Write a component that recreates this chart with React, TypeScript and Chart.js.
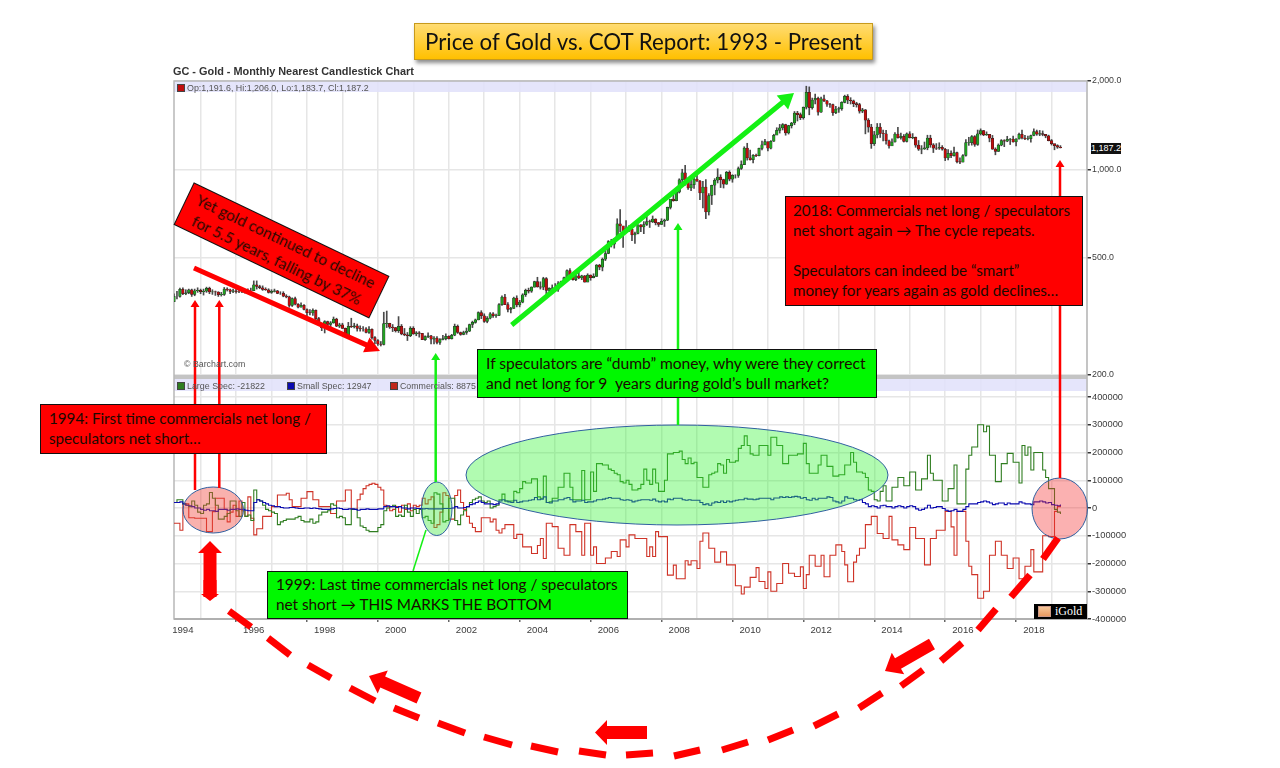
import React, { useEffect, useRef } from "react";
import { Chart, registerables } from "chart.js";

Chart.register(...registerables);

const opens = [
  355,370,370,
  391,378,381,390,376,387,388,384,386,394,383,384,
  383,375,376,392,390,385,387,384,383,384,382,387,
  387,405,400,396,391,390,382,385,387,379,379,371,
  369,345,364,348,340,345,334,326,325,332,311,296,
  290,304,297,301,310,293,296,288,273,293,292,294,
  288,287,287,279,286,268,262,255,254,299,300,291,
  290,283,293,276,274,272,288,276,278,277,264,270,
  272,265,267,258,264,266,271,266,273,293,279,275,
  279,282,297,302,308,326,318,304,312,323,318,319,
  347,368,347,334,337,365,346,354,375,388,386,398,
  416,399,398,426,388,394,396,391,409,416,429,453,
  438,422,435,428,435,414,437,429,433,473,465,495,
  518,569,557,582,654,643,616,632,626,599,606,648,
  638,650,665,663,678,660,650,667,673,743,794,783,
  838,923,975,921,865,888,928,913,833,871,718,816,
  884,919,942,924,891,979,927,955,955,1008,1039,1182,
  1096,1081,1118,1115,1180,1213,1244,1181,1248,1308,1359,1386,
  1421,1333,1410,1439,1556,1536,1502,1628,1829,1624,1724,1746,
  1566,1740,1711,1669,1664,1560,1604,1610,1692,1773,1720,1713,
  1675,1663,1578,1595,1472,1393,1224,1312,1395,1327,1323,1253,
  1202,1240,1321,1284,1296,1246,1322,1282,1287,1210,1172,1175,
  1184,1279,1213,1183,1182,1190,1172,1095,1135,1115,1141,1064,
  1060,1116,1234,1235,1293,1217,1322,1357,1311,1316,1277,1173,
  1152,1210,1254,1249,1266,1269,1241,1270,1317,1280,1271,1274,
  1305,1345,1318,1325,1316,1301,1254,1224,1206,1191.6,
];
const closes = [
  370,370,391,
  378,381,390,376,387,388,384,386,394,383,384,383,
  375,376,392,390,385,387,384,383,384,382,387,387,
  405,400,396,391,390,382,385,387,379,379,371,369,
  345,364,348,340,345,334,326,325,332,311,296,290,
  304,297,301,310,293,296,288,273,293,292,294,288,
  287,287,279,286,268,262,255,254,299,300,291,290,
  283,293,276,274,272,288,276,278,277,264,270,272,
  265,267,258,264,266,271,266,273,293,279,275,279,
  282,297,302,308,326,318,304,312,323,318,319,347,
  368,347,334,337,365,346,354,375,388,386,398,416,
  399,398,426,388,394,396,391,409,416,429,453,438,
  422,435,428,435,414,437,429,433,473,465,495,518,
  569,557,582,654,643,616,632,626,599,606,648,638,
  650,665,663,678,660,650,667,673,743,794,783,838,
  923,975,921,865,888,928,913,833,871,718,816,884,
  919,942,924,891,979,927,955,955,1008,1039,1182,1096,
  1081,1118,1115,1180,1213,1244,1181,1248,1308,1359,1386,1421,
  1333,1410,1439,1556,1536,1502,1628,1829,1624,1724,1746,1566,
  1740,1711,1669,1664,1560,1604,1610,1692,1773,1720,1713,1675,
  1663,1578,1595,1472,1393,1224,1312,1395,1327,1323,1253,1202,
  1240,1321,1284,1296,1246,1322,1282,1287,1210,1172,1175,1184,
  1279,1213,1183,1182,1190,1172,1095,1135,1115,1141,1064,1060,
  1116,1234,1235,1293,1217,1322,1357,1311,1316,1277,1173,1152,
  1210,1254,1249,1266,1269,1241,1270,1317,1280,1271,1274,1305,
  1345,1318,1325,1316,1301,1254,1224,1206,1192,1187.2,
];
const highs = [
  378,385,395,
  396,390,392,392,392,396,392,392,398,398,390,386,
  384,382,397,396,392,392,392,388,390,389,393,395,
  418,418,404,402,396,393,390,392,388,384,384,375,
  371,366,368,350,352,347,336,334,336,333,314,298,
  306,305,304,315,312,300,300,289,302,312,300,298,
  294,292,290,292,287,270,264,260,327,330,300,297,
  290,316,297,288,279,292,292,281,281,276,272,278,
  273,270,270,266,273,276,272,275,298,296,280,282,
  289,298,305,310,328,331,323,316,326,326,322,350,
  372,376,353,340,368,372,359,378,392,395,399,417,
  430,415,430,429,396,405,409,416,417,431,456,460,
  440,438,447,437,436,442,438,442,475,476,500,540,
  573,579,583,680,730,640,670,645,636,612,650,650,
  665,693,673,695,680,660,680,678,745,790,845,840,
  930,1002,1034,933,935,943,988,918,912,925,828,885,
  931,1006,960,927,985,990,960,960,1020,1070,1195,1228,
  1165,1125,1128,1183,1250,1266,1215,1255,1318,1387,1424,1433,
  1426,1414,1447,1575,1577,1557,1632,1920,1910,1750,1804,1764,
  1765,1792,1720,1680,1668,1640,1630,1700,1790,1798,1755,1723,
  1693,1680,1615,1600,1490,1425,1348,1434,1434,1362,1360,1260,
  1272,1335,1392,1330,1315,1332,1345,1325,1290,1255,1206,1240,
  1308,1308,1225,1225,1233,1206,1180,1170,1158,1192,1146,1095,
  1125,1263,1287,1305,1304,1362,1375,1358,1343,1317,1306,1185,
  1222,1264,1263,1297,1275,1298,1274,1330,1362,1306,1300,1310,
  1375,1362,1358,1353,1315,1309,1265,1218,1214,1206,
];
const lows = [
  355,363,368,
  375,375,378,370,372,382,378,374,382,378,376,373,
  370,371,373,386,378,381,380,381,381,380,380,385,
  387,392,393,388,388,380,379,383,378,376,369,366,
  340,342,346,338,340,333,318,320,319,307,295,283,
  278,294,292,300,292,290,288,271,273,290,289,282,
  282,282,278,277,265,255,252,251,253,290,288,281,
  280,279,274,272,262,270,275,272,269,264,262,268,
  255,255,255,254,263,263,265,265,272,277,273,274,
  275,281,290,300,308,311,302,301,310,314,314,318,
  345,347,328,325,337,341,341,352,370,380,382,398,
  398,392,390,372,375,386,385,385,405,410,424,435,
  420,419,425,422,414,415,420,428,433,456,452,490,
  517,545,540,580,613,543,610,615,573,560,604,615,
  605,645,635,660,648,640,650,640,670,734,780,782,
  832,885,885,855,848,863,910,790,740,680,700,760,
  820,900,868,865,890,915,905,935,940,1000,1040,1076,
  1075,1052,1105,1113,1165,1212,1157,1175,1245,1315,1330,1363,
  1308,1320,1384,1420,1462,1478,1483,1606,1535,1604,1671,1530,
  1564,1700,1640,1625,1526,1548,1564,1590,1685,1675,1670,1636,
  1630,1555,1560,1322,1340,1180,1207,1280,1285,1250,1220,1182,
  1221,1238,1278,1268,1240,1240,1280,1272,1190,1161,1131,1170,
  1167,1190,1142,1169,1170,1163,1072,1077,1098,1110,1052,1046,
  1061,1110,1208,1210,1199,1208,1310,1303,1306,1242,1171,1122,
  1152,1204,1196,1243,1216,1238,1204,1268,1271,1262,1261,1238,
  1302,1307,1303,1302,1282,1251,1211,1167,1180,1183.7,
];
// COT positions, in thousands of contracts
const largeSpec = [
  20,30,30,
  15,10,5,25,10,-15,-20,10,15,56,35,10,
  -40,-40,-30,-20,25,25,-10,-30,20,-30,-25,-45,
  65,30,25,10,-5,-10,-15,-20,-60,-50,-45,-40,
  -40,-40,-35,-30,-45,-50,-50,-40,-55,-50,-25,-15,
  -15,-10,15,10,-35,-30,-35,-60,-60,-5,-5,-35,
  -65,-70,-80,-85,-85,-85,-70,-60,-10,0,5,10,
  -30,-25,-30,10,-15,-30,-5,-20,-5,-35,-30,-45,
  -55,55,50,15,-50,-45,35,35,-45,-60,-25,-10,
  5,20,30,35,40,25,20,25,0,5,10,30,
  50,25,25,25,60,55,70,95,90,90,105,105,
  40,35,115,20,22,35,35,75,75,125,125,75,
  30,30,30,135,30,30,130,60,160,160,155,155,
  140,135,125,120,95,90,100,85,65,65,70,85,
  140,100,85,140,90,60,60,100,195,195,200,200,
  205,175,160,180,160,165,110,110,75,75,120,125,
  130,160,155,125,175,165,165,170,215,225,260,225,
  195,190,190,225,225,225,190,255,255,225,225,160,
  160,190,190,190,195,195,233,160,125,125,125,155,
  190,190,150,150,115,115,120,120,155,155,200,165,
  130,130,125,110,65,60,30,25,60,80,25,25,
  75,75,110,110,80,80,130,130,65,65,105,105,
  190,125,100,100,100,25,25,70,70,155,15,15,
  15,140,190,220,220,300,300,275,295,190,190,95,
  95,160,160,197,197,165,165,90,225,190,220,137,
  200,200,200,137,110,70,70,-5,-15,-21.8,
];
const smallSpec = [
  20,20,22,
  15,10,8,5,0,0,-5,-8,-5,-10,-10,-12,
  -5,-5,-5,-8,-5,-5,-3,-5,-5,-8,-10,-10,
  20,30,25,20,15,10,8,5,5,2,0,0,
  2,2,0,-2,-2,0,0,-2,0,-2,-3,-5,
  -5,-5,-3,-2,0,-2,-5,-5,-3,-3,-5,-8,
  -5,-5,-3,-5,-5,-5,-3,-3,5,8,5,5,
  2,5,0,0,-3,0,0,-2,-2,-3,-2,-3,
  -3,-3,-3,-3,-2,-2,-2,0,5,0,0,2,
  5,12,15,20,25,20,15,15,15,12,15,25,
  30,25,22,20,28,20,22,25,25,28,30,38,
  30,32,40,20,18,25,25,30,30,35,38,30,
  22,25,25,28,20,22,22,25,30,30,32,35,
  38,35,35,35,30,28,30,28,22,25,28,30,
  30,30,28,32,25,22,25,22,32,30,35,35,
  35,30,28,30,28,28,28,20,12,15,10,18,
  22,20,25,20,25,22,25,28,30,30,35,32,
  32,30,32,35,35,35,35,30,36,36,40,38,
  40,38,40,42,40,35,38,30,28,35,30,35,
  35,35,40,38,25,22,18,25,40,35,35,30,
  28,30,20,15,5,8,5,0,8,10,5,5,
  0,5,8,5,0,5,8,5,-3,-8,-5,0,
  10,0,2,5,5,-2,-8,-12,-10,-5,-12,-12,
  -5,5,15,15,15,20,22,25,22,18,12,15,
  18,18,12,18,15,15,15,22,18,15,15,12,
  22,22,25,22,18,20,12,10,8,12.9,
];
const commercials = [
  -55,-55,-80,
  15,15,-35,-35,-37,-37,-37,-37,-85,-85,-13,35,
  35,35,-5,-50,-15,10,-30,25,-10,-30,40,-37,
  -97,-75,-75,-30,-30,-30,5,5,47,47,47,53,
  30,5,5,5,35,35,59,59,30,30,5,5,
  5,5,-20,-20,25,25,25,65,65,-5,-5,30,
  50,70,80,85,89,85,75,65,10,5,-10,-5,
  5,-15,10,-5,15,-10,10,5,10,35,15,30,
  40,-70,-60,-15,55,45,-40,-40,45,65,20,-5,
  -30,-55,-70,-85,-85,-35,-35,-35,-50,-40,-80,-90,
  -75,-60,-60,-60,-110,-95,-95,-140,-140,-140,-164,-164,
  -135,-110,-182,-55,-55,-67,-67,-145,-145,-170,-170,-60,
  -60,-85,-85,-170,-55,-55,-170,-140,-200,-200,-200,-180,
  -180,-157,-157,-175,-115,-115,-140,-97,-97,-110,-110,-110,
  -110,-175,-140,-175,-85,-103,-103,-103,-242,-242,-206,-255,
  -255,-255,-190,-205,-190,-190,-218,-120,-90,-90,-145,-145,
  -195,-195,-158,-158,-205,-205,-205,-280,-280,-310,-285,-285,
  -250,-250,-215,-265,-265,-290,-230,-300,-300,-272,-272,-200,
  -200,-235,-235,-247,-247,-212,-290,-240,-170,-170,-210,-210,
  -170,-248,-248,-170,-170,-133,-133,-157,-205,-266,-266,-195,
  -170,-145,-145,-60,-60,-30,-30,-92,-92,-110,-110,-30,
  -115,-115,-133,-133,-150,-150,-70,-70,-110,-110,-110,-205,
  -205,-110,-110,-80,-80,-80,-12,-12,-68,-170,-12,-12,
  -12,-120,-210,-240,-240,-325,-325,-300,-300,-170,-170,-120,
  -120,-170,-170,-218,-218,-180,-180,-255,-255,-210,-210,-150,
  -230,-230,-230,-100,-100,-103,-103,-12,5,8.9,
];
const priceTicks = [200, 500, 1000, 2000];
const cotTicks = [-400, -300, -200, -100, 0, 100, 200, 300, 400];

// month axis: Oct 1993 to mid 2019
const months: string[] = [];
for (let y = 1993; y <= 2019; y++) {
  for (let m = 1; m <= 12; m++) {
    if ((y === 1993 && m < 10) || months.length >= 310) continue;
    months.push(`${y}-${String(m).padStart(2, "0")}`);
  }
}

const dashes = [
  [1058,538,1043,559],[1030,575,1011,597],[996,609,978,630],[962,643,941,661],[923,670,901,686],
  [882,693,859,708],[838,714,814,726],[793,730,768,740],[748,742,722,750],[700,750,674,756],
  [653,753,626,755],[606,755,579,751],[558,752,531,746],[512,745,484,737],[465,733,438,723],
  [419,718,394,708],[375,701,350,688],[331,678,308,665],[290,655,268,638],[251,627,229,611],
];

function blockArrow(ctx: CanvasRenderingContext2D, x0: number, y0: number, x1: number, y1: number, shaft: number, head: number, headLen: number, color: string) {
  const a = Math.atan2(y1 - y0, x1 - x0);
  const L = Math.hypot(x1 - x0, y1 - y0);
  ctx.save();
  ctx.translate(x0, y0);
  ctx.rotate(a);
  ctx.fillStyle = color;
  ctx.beginPath();
  ctx.moveTo(0, -shaft / 2);
  ctx.lineTo(L - headLen, -shaft / 2);
  ctx.lineTo(L - headLen, -head / 2);
  ctx.lineTo(L, 0);
  ctx.lineTo(L - headLen, head / 2);
  ctx.lineTo(L - headLen, shaft / 2);
  ctx.lineTo(0, shaft / 2);
  ctx.closePath();
  ctx.fill();
  ctx.restore();
}

function ellipse(ctx: CanvasRenderingContext2D, x0: number, y0: number, x1: number, y1: number, fill: string) {
  ctx.beginPath();
  ctx.ellipse((x0 + x1) / 2, (y0 + y1) / 2, (x1 - x0) / 2, (y1 - y0) / 2, 0, 0, Math.PI * 2);
  ctx.fillStyle = fill;
  ctx.fill();
  ctx.lineWidth = 1;
  ctx.strokeStyle = "#2f5f9f";
  ctx.stroke();
}

const panelPlugin = {
  id: "panels",
  beforeDatasetsDraw(chart: any) {
    const { ctx, chartArea: a, scales } = chart;
    const split = scales.cot.top;
    ctx.save();
    ctx.fillStyle = "rgba(225,225,250,0.85)";
    ctx.fillRect(a.left, a.top, a.width, 11);
    ctx.fillRect(a.left, split + 4, a.width, 12);
    ctx.fillStyle = "#c4c4c4";
    ctx.fillRect(a.left, split, a.width, 4);
    ctx.strokeStyle = "#b8b8b8";
    ctx.lineWidth = 1.5;
    ctx.strokeRect(a.left, a.top, a.width, a.height);
    ctx.fillStyle = "#b0b0b0";
    ctx.fillRect(a.left, a.bottom - 1, a.width, 2);
    ctx.restore();
  },
  afterDatasetsDraw(chart: any) {
    const ctx: CanvasRenderingContext2D = chart.ctx;
    ctx.save();
    ellipse(ctx, 183, 487, 243.5, 533, "rgba(240,70,60,0.42)");
    ellipse(ctx, 421.5, 482, 452, 535.5, "rgba(60,230,60,0.4)");
    ellipse(ctx, 466, 425, 888, 525, "rgba(50,245,50,0.38)");
    ellipse(ctx, 1032, 478, 1087.5, 539, "rgba(245,50,50,0.38)");

    const red = "#ff0000";
    const green = "#14f014";
    blockArrow(ctx, 195, 490, 195, 300, 2.5, 9, 7, red);
    blockArrow(ctx, 219.3, 488, 219.3, 300, 2.5, 9, 7, red);
    blockArrow(ctx, 194, 268, 380, 351, 5, 16, 15, red);
    blockArrow(ctx, 1060, 478, 1060, 160, 2.5, 9, 7, red);
    blockArrow(ctx, 435.7, 482, 435.7, 353, 2.5, 9, 7, green);
    blockArrow(ctx, 678, 425, 678, 223, 2.5, 9, 7, green);
    blockArrow(ctx, 511.7, 325, 794, 93, 5, 18, 15, green);
    ctx.strokeStyle = green;
    ctx.lineWidth = 1.5;
    ctx.beginPath();
    ctx.moveTo(426, 530);
    ctx.lineTo(413, 571);
    ctx.stroke();

    ctx.strokeStyle = red;
    ctx.lineWidth = 7;
    ctx.lineCap = "butt";
    dashes.forEach(([x0, y0, x1, y1]) => {
      ctx.beginPath();
      ctx.moveTo(x0, y0);
      ctx.lineTo(x1, y1);
      ctx.stroke();
    });

    blockArrow(ctx, 932, 644, 885, 671, 12, 25, 15, red);
    blockArrow(ctx, 419, 698, 369, 676, 12, 25, 15, red);
    blockArrow(ctx, 647, 732.5, 595, 732.5, 13, 25, 12, red);
    // double headed arrow under the first circle
    blockArrow(ctx, 210, 597, 210, 541, 13, 24, 12, red);
    blockArrow(ctx, 210, 580, 210, 601, 13, 18, 7, red);
    ctx.restore();
  },
};

const bodyFont = "Lato, 'Open Sans', sans-serif";
const chartFont = "'Liberation Sans', Arial, sans-serif";

function Box(p: { left: number; top: number; width: number; height: number; bg: string; pad?: number; lines: string[]; size?: number }) {
  return (
    <div
      style={{
        position: "absolute",
        left: p.left,
        top: p.top,
        width: p.width,
        height: p.height,
        boxSizing: "border-box",
        background: p.bg,
        border: "1px solid #111",
        paddingLeft: p.pad ?? 8,
        paddingBottom: 2,
        display: "flex",
        flexDirection: "column",
        justifyContent: "center",
        fontFamily: bodyFont,
        fontSize: p.size ?? 15.2,
        lineHeight: "20px",
        color: "#1a0a00",
        whiteSpace: "pre",
      }}
    >
      {p.lines.map((l, i) => (
        <div key={i} style={{ height: 20 }}>{l}</div>
      ))}
    </div>
  );
}

function Small(p: { left: number; top: number; text: string; color?: string; size?: number; weight?: number }) {
  return (
    <div style={{ position: "absolute", left: p.left, top: p.top, fontFamily: chartFont, fontSize: p.size ?? 8.8, fontWeight: p.weight ?? 400, lineHeight: "10px", color: p.color ?? "#555", whiteSpace: "pre" }}>
      {p.text}
    </div>
  );
}

function Sq(p: { left: number; top: number; color: string }) {
  return <div style={{ position: "absolute", left: p.left, top: p.top, width: 6, height: 6, background: p.color, border: "1px solid #444", boxSizing: "content-box" }} />;
}

export default function App() {
  const ref = useRef<HTMLCanvasElement>(null);
  useEffect(() => {
    const chart = new Chart(ref.current!, {
      type: "bar",
      data: {
        labels: months,
        datasets: [
          {
            label: "Range",
            data: lows.map((l, i) => [l, highs[i]]),
            yAxisID: "price",
            backgroundColor: "#4a4a4a",
            barThickness: 1,
            grouped: false,
            order: 5,
          },
          {
            label: "Gold",
            data: opens.map((o, i) => [Math.min(o, closes[i]), Math.max(o, closes[i])]),
            yAxisID: "price",
            backgroundColor: opens.map((o, i) => (closes[i] >= o ? "#22a022" : "#c00d0d")),
            borderColor: "#222",
            borderWidth: 0.5,
            borderSkipped: false,
            barThickness: 2.6,
            grouped: false,
            order: 4,
          },
          {
            type: "line",
            label: "Commercials",
            data: commercials,
            yAxisID: "cot",
            borderColor: "#cf3327",
            borderWidth: 1.1,
            pointRadius: 0,
            stepped: true,
            order: 3,
          },
          {
            type: "line",
            label: "Large Spec",
            data: largeSpec,
            yAxisID: "cot",
            borderColor: "#2f7d20",
            borderWidth: 1.1,
            pointRadius: 0,
            stepped: true,
            order: 2,
          },
          {
            type: "line",
            label: "Small Spec",
            data: smallSpec,
            yAxisID: "cot",
            borderColor: "#0b0bb0",
            borderWidth: 1.1,
            pointRadius: 0,
            stepped: true,
            order: 1,
          },
        ] as any,
      },
      options: {
        responsive: false,
        animation: false,
        devicePixelRatio: 1,
        layout: { padding: { left: 174, top: 81, right: 0, bottom: 0 } },
        plugins: { legend: { display: false }, tooltip: { enabled: false } },
        scales: {
          x: {
            type: "category",
            offset: false,
            grid: {
              color: "#e6e6e6",
              lineWidth: 1.5,
              tickLength: 3,
              tickColor: (c: any) => (c.index % 2 === 0 ? "#666" : "rgba(0,0,0,0)"),
            },
            border: { display: false },
            ticks: {
              autoSkip: false,
              maxRotation: 0,
              minRotation: 0,
              padding: 3,
              color: "#3c3c3c",
              font: { family: chartFont, size: 9.6 },
              callback(this: any, value: any) {
                const lab: string = this.getLabelForValue(value);
                const y = Number(lab.slice(0, 4));
                return y % 2 === 0 ? String(y) : "";
              },
            },
            afterBuildTicks(s: any) {
              s.ticks = s.ticks.filter((t: any) => months[t.value]?.endsWith("-01"));
            },
            afterFit(s: any) {
              s.height = 149;
            },
          },
          price: {
            type: "logarithmic",
            position: "right",
            stack: "panels",
            stackWeight: 294,
            weight: 0,
            min: 200,
            max: 2000,
            grid: { color: "#e6e6e6", lineWidth: 1.5, tickLength: 4, tickColor: "#333" },
            border: { display: false },
            ticks: {
              autoSkip: false,
              padding: 1,
              color: "#3c3c3c",
              font: { family: chartFont, size: 8.8 },
              callback: (v: any) => Number(v).toLocaleString("en-US", { minimumFractionDigits: 1 }),
            },
            afterBuildTicks(s: any) {
              s.ticks = priceTicks.map((value) => ({ value }));
            },
            afterFit(s: any) {
              s.width = 193;
            },
          },
          cot: {
            type: "linear",
            position: "right",
            stack: "panels",
            stackWeight: 244,
            weight: 1,
            min: -400,
            max: 479.3,
            grid: { color: "#e6e6e6", lineWidth: 1.5, tickLength: 4, tickColor: "#333" },
            border: { display: false },
            ticks: {
              autoSkip: false,
              padding: 1,
              color: "#3c3c3c",
              font: { family: chartFont, size: 9.3 },
              callback: (v: any) => String(Number(v) * 1000),
            },
            afterBuildTicks(s: any) {
              s.ticks = cotTicks.map((value) => ({ value }));
            },
            afterFit(s: any) {
              s.width = 193;
            },
          },
        },
      } as any,
      plugins: [panelPlugin],
    });
    return () => chart.destroy();
  }, []);

  return (
    <div style={{ position: "absolute", left: 0, top: 0, width: 1280, height: 768, background: "#fff", overflow: "hidden" }}>
      <canvas ref={ref} width={1280} height={768} style={{ position: "absolute", left: 0, top: 0, display: "block" }} />

      <div style={{ position: "absolute", left: 414, top: 23, width: 459, height: 37, boxSizing: "border-box", background: "linear-gradient(#ffdc73,#ffc000)", border: "1px solid #c79a1c", boxShadow: "2px 3px 4px rgba(0,0,0,0.45)", display: "flex", alignItems: "center", justifyContent: "center", fontFamily: bodyFont, fontSize: 22.3, color: "#111", whiteSpace: "pre" }}>
        Price of Gold vs. COT Report: 1993 - Present
      </div>

      <Small left={173} top={66} text="GC - Gold - Monthly Nearest Candlestick Chart" size={10.9} weight={700} color="#333" />
      <Sq left={177} top={84} color="#c00d0d" />
      <Small left={187} top={83} text="Op:1,191.6, Hi:1,206.0, Lo:1,183.7, Cl:1,187.2" size={8.9} />
      <Small left={184} top={359} text="© Barchart.com" />
      <Sq left={177} top={382} color="#2f7d20" />
      <Small left={187} top={381} text="Large Spec: -21822" size={8.9} />
      <Sq left={287} top={382} color="#0b0bb0" />
      <Small left={297} top={381} text="Small Spec: 12947" size={8.9} />
      <Sq left={390} top={382} color="#c0281c" />
      <Small left={400} top={381} text="Commercials: 8875" />

      <div style={{ position: "absolute", left: 1091, top: 143, width: 30, height: 11, background: "#111", color: "#fff", fontFamily: chartFont, fontSize: 9, lineHeight: "11px", overflow: "hidden", whiteSpace: "pre" }}>1,187.2</div>

      <div style={{ position: "absolute", left: 1034, top: 604, width: 53, height: 15, background: "#000", display: "flex", alignItems: "center" }}>
        <div style={{ width: 11, height: 9, marginLeft: 4, background: "linear-gradient(#f6c79a,#e89a60)", border: "1px solid #c98" }} />
        <div style={{ marginLeft: 4, color: "#fff", fontFamily: "'Liberation Serif', serif", fontSize: 12 }}>iGold</div>
      </div>

      <div style={{ position: "absolute", left: 281.5 - 108.7, top: 250.5 - 23.5, width: 217.4, height: 47, boxSizing: "border-box", background: "#ff0000", border: "1px solid #111", transform: "rotate(25.6deg)", fontFamily: bodyFont, fontSize: 15.4, lineHeight: "21px", color: "#1a0a00", textAlign: "center", whiteSpace: "pre", paddingTop: 2 }}>
        <div>Yet gold continued to decline</div>
        <div>for 5.5 years, falling by 37%</div>
      </div>

      <Box left={40} top={404} width={287} height={50} bg="#ff0000" lines={["1994: First time commercials net long /", "speculators net short…"]} />
      <Box left={477} top={349} width={400} height={49} bg="#00f800" size={15.6} lines={["If speculators are “dumb” money, why were they correct", "and net long for 9  years during gold’s bull market?"]} />
      <Box left={267} top={571} width={361} height={48} bg="#00f800" size={15.3} lines={["1999: Last time commercials net long / speculators", "net short → THIS MARKS THE BOTTOM"]} />
      <Box left={785} top={196} width={298} height={110} bg="#ff0000" pad={7} lines={["2018: Commercials net long / speculators", "net short again → The cycle repeats.", "", "Speculators can indeed be “smart”", "money for years again as gold declines…"]} />
    </div>
  );
}
